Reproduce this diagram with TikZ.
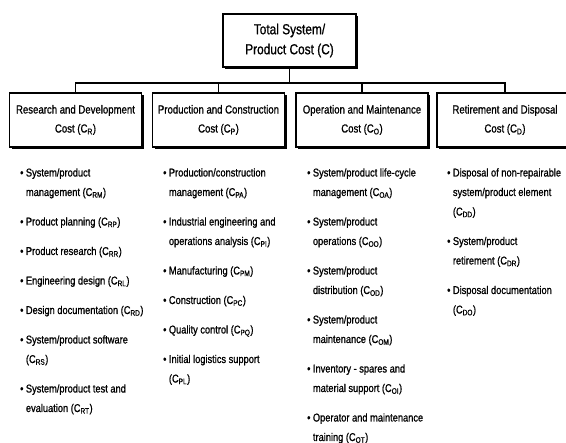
\documentclass[tikz,border=0pt]{standalone}
\usepackage{fontspec}
\setmainfont{Liberation Sans}[FakeStretch=0.82,FakeBold=0.9]
\usetikzlibrary{shadows}
\newcommand\bitem[1]{\textbullet\hspace{2.5pt}\begin{tabular}[t]{@{}l@{}}#1\end{tabular}}
\begin{document}
\begin{tikzpicture}[x=1pt,y=-1pt,
  boxbase/.style={draw, line width=1.2pt, fill=white, inner sep=0pt, align=center,
    general shadow={fill=black, shadow xshift=2.2pt, shadow yshift=-2.2pt}},
  topbox/.style={boxbase, minimum width=133pt, minimum height=53pt,
    font=\fontsize{14.5}{20}\selectfont},
  catbox/.style={boxbase, minimum width=132pt, minimum height=54pt,
    font=\fontsize{11.7}{19}\selectfont},
  conn/.style={draw, line width=1.2pt},
  itm/.style={anchor=base west, inner sep=0pt,
    font=\fontsize{11.3}{19.5}\selectfont},
]
\useasboundingbox (0,0) rectangle (566,443);
\fill[white] (0,0) rectangle (566,443);

% boxes
\node[topbox] (top) at (289.5,40.5) {Total System/\\Product Cost (C)};
\node[catbox] (rd) at (75.5,120) {Research and Development\\Cost (C\textsubscript{R})};
\node[catbox] (pc) at (218.5,120) {Production and Construction\\Cost (C\textsubscript{P})};
\node[catbox] (om) at (362,120) {Operation and Maintenance\\Cost (C\textsubscript{O})};
\node[catbox, minimum width=136pt] (rt) at (505,120) {Retirement and Disposal\\Cost (C\textsubscript{D})};

% connectors
\foreach \b in {rd,pc,om,rt}
  \draw[conn] (top.south) -- ++(0,15.5) -| (\b.north);

% column 1
\node[itm] (r1) at (20,176.5) {\bitem{System/product\\management (C\textsubscript{RM})}};
\node[itm] (r2) at (20,225.5) {\bitem{Product planning (C\textsubscript{RP})}};
\node[itm] (r3) at (20,255) {\bitem{Product research (C\textsubscript{RR})}};
\node[itm] (r4) at (20,284.5) {\bitem{Engineering design (C\textsubscript{RL})}};
\node[itm] (r5) at (20,314) {\bitem{Design documentation (C\textsubscript{RD})}};
\node[itm] (r6) at (20,343.5) {\bitem{System/product software\\(C\textsubscript{RS})}};
\node[itm] (r7) at (20,392.5) {\bitem{System/product test and\\evaluation (C\textsubscript{RT})}};

% column 2
\node[itm] (p1) at (163,176.5) {\bitem{Production/construction\\management (C\textsubscript{PA})}};
\node[itm] (p2) at (163,225.5) {\bitem{Industrial engineering and\\operations analysis (C\textsubscript{PI})}};
\node[itm] (p3) at (163,274.5) {\bitem{Manufacturing (C\textsubscript{PM})}};
\node[itm] (p4) at (163,304) {\bitem{Construction (C\textsubscript{PC})}};
\node[itm] (p5) at (163,333.5) {\bitem{Quality control (C\textsubscript{PQ})}};
\node[itm] (p6) at (163,363) {\bitem{Initial logistics support\\(C\textsubscript{PL})}};

% column 3
\node[itm] (o1) at (307,176.5) {\bitem{System/product life-cycle\\management (C\textsubscript{OA})}};
\node[itm] (o2) at (307,225.5) {\bitem{System/product\\operations (C\textsubscript{OO})}};
\node[itm] (o3) at (307,274.5) {\bitem{System/product\\distribution (C\textsubscript{OD})}};
\node[itm] (o4) at (307,323.5) {\bitem{System/product\\maintenance (C\textsubscript{OM})}};
\node[itm] (o5) at (307,372.5) {\bitem{Inventory - spares and\\material support (C\textsubscript{OI})}};
\node[itm] (o6) at (307,421.5) {\bitem{Operator and maintenance\\training (C\textsubscript{OT})}};

% column 4
\node[itm] (d1) at (447,176.5) {\bitem{Disposal of non-repairable\\system/product element\\(C\textsubscript{DD})}};
\node[itm] (d2) at (447,245) {\bitem{System/product\\retirement (C\textsubscript{DR})}};
\node[itm] (d3) at (447,294) {\bitem{Disposal documentation\\(C\textsubscript{DO})}};
\end{tikzpicture}
\end{document}
